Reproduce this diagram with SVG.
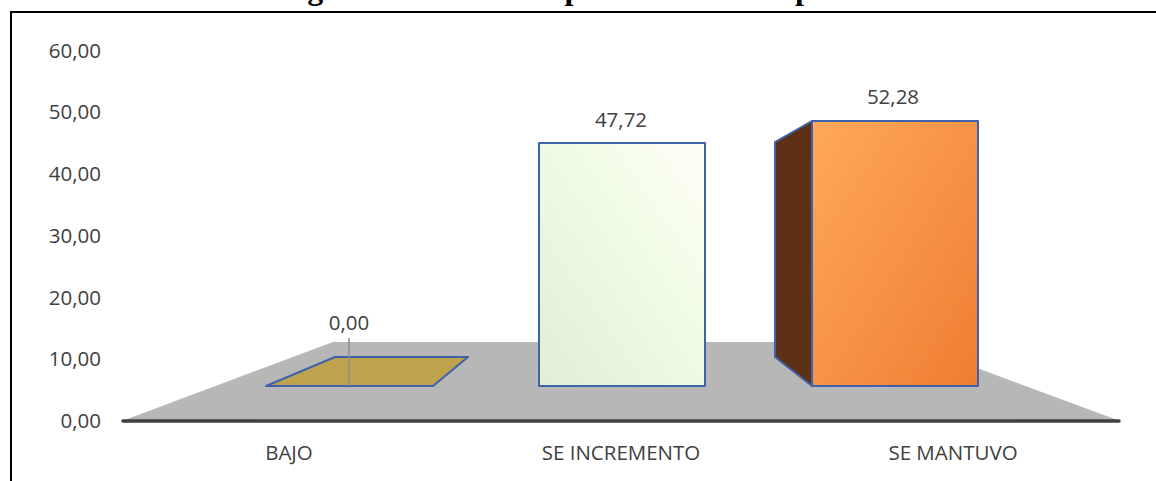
<svg xmlns="http://www.w3.org/2000/svg" width="1156" height="481" viewBox="0 0 1156 481">
<style>
.t{font-family:"Open Sans","Liberation Sans",sans-serif;font-size:20.5px;fill:#404040}
.ya{text-anchor:end}
.c{text-anchor:middle}
.bar{stroke:#3f63ab;stroke-width:2;stroke-linejoin:round}
.title{font-family:"Liberation Serif","Times New Roman",serif;font-weight:bold;font-size:32px;fill:#000}
</style>
<defs>
<linearGradient id="gGreen" x1="0" y1="1" x2="1" y2="0">
<stop offset="0" stop-color="#e1edd5"/>
<stop offset="0.6" stop-color="#f0fce5"/>
<stop offset="1" stop-color="#fffdf6"/>
</linearGradient>
<linearGradient id="gOrange" x1="0" y1="0" x2="1" y2="1">
<stop offset="0" stop-color="#ffa85b"/>
<stop offset="1" stop-color="#ef7d33"/>
</linearGradient>
</defs>
<rect width="1156" height="481" fill="#fff"/>
<text class="title" x="277" y="-1">Ingresos económicos por actividad empresarial</text>
<g id="frame" fill="none" stroke="#000" stroke-width="2">
<line x1="10" y1="12" x2="1156" y2="12"/>
<line x1="11" y1="12" x2="11" y2="481"/>
</g>
<g id="axis-y">
<text class="t ya" x="101" y="57.5">60,00</text>
<text class="t ya" x="101" y="119.3">50,00</text>
<text class="t ya" x="101" y="181.2">40,00</text>
<text class="t ya" x="101" y="242.8">30,00</text>
<text class="t ya" x="101" y="304.6">20,00</text>
<text class="t ya" x="101" y="366.4">10,00</text>
<text class="t ya" x="101" y="428.3">0,00</text>
</g>
<g id="floor">
<polygon points="122,421 333,342 907,342 1120,421" fill="#b7b7b7"/>
<line x1="123" y1="421" x2="1119" y2="421" stroke="#404040" stroke-width="3.5" stroke-linecap="round"/>
</g>
<g id="bar-bajo">
<polygon class="bar" points="266,386 335,357 468,357 433,386" fill="#bfa24d"/>
</g>
<g id="bar-incremento">
<rect class="bar" x="539" y="143" width="166" height="243" fill="url(#gGreen)"/>
<text class="t c" x="621" y="126.5">47,72</text>
</g>
<g id="bar-mantuvo">
<polygon class="bar" points="775,142 812,121 812,386 775,357" fill="#5e3116"/>
<rect class="bar" x="812" y="121" width="166" height="265" fill="url(#gOrange)"/>
<text class="t c" x="893" y="103.5">52,28</text>
</g>
<g id="connectors">
<line x1="349" y1="338" x2="349" y2="386" stroke="#8c8c8c" stroke-width="1.5"/>
</g>
<g id="label-bajo">
<text class="t c" x="349" y="329.5">0,00</text>
</g>
<g id="axis-x">
<text class="t c" x="289" y="459.5">BAJO</text>
<text class="t c" x="621" y="459.5">SE INCREMENTO</text>
<text class="t c" x="953" y="459.5">SE MANTUVO</text>
</g>
</svg>
